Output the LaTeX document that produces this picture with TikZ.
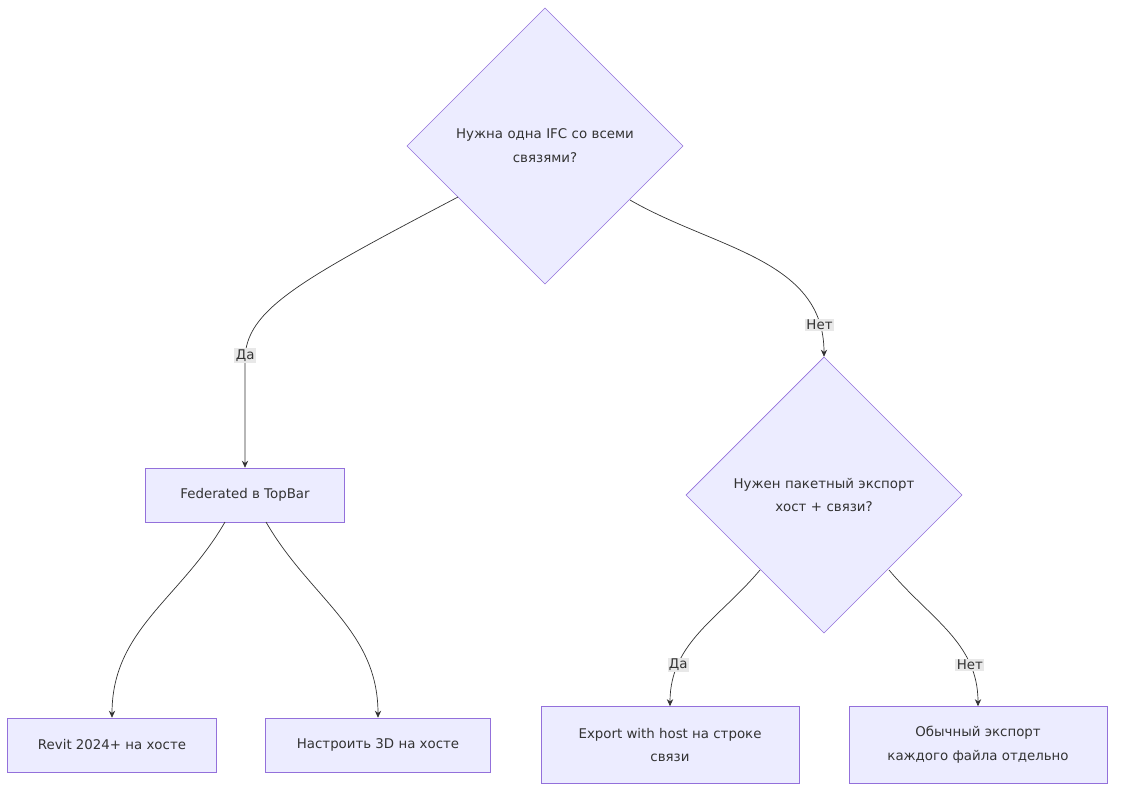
\documentclass[tikz,border=0pt]{standalone}
\usepackage{fontspec}
\setmainfont{DejaVu Sans}
\usetikzlibrary{shapes.geometric,arrows.meta}
\definecolor{mfill}{HTML}{ECECFF}
\definecolor{mline}{HTML}{9370DB}
\definecolor{mtext}{HTML}{333333}
\definecolor{mlab}{HTML}{E8E8E8}
\tikzset{
  box/.style={draw=mline, fill=mfill, text=mtext, font=\fontsize{9.5}{17}\selectfont, align=center, inner sep=0pt},
  choice/.style={box, shape=diamond, minimum width=6.9cm, minimum height=6.9cm, text width=4.8cm},
  arr/.style={draw=mtext, line width=0.5pt, -{Stealth[length=5pt,width=4.5pt]}},
  lbl/.style={fill=mlab, text=mtext, font=\fontsize{9.5}{11}\selectfont, inner sep=1pt}
}
\begin{document}
\begin{tikzpicture}[x=0.025cm, y=-0.025cm]
 \useasboundingbox (0,0) rectangle (1123,798);

 %decisions
 \node[choice] (ifc) at (545,146) {Нужна одна IFC со всеми\\связями?};
 \node[choice] (batch) at (824,495) {Нужен пакетный экспорт\\хост + связи?};

 %boxes
 \node[box, minimum width=4.975cm, minimum height=1.35cm] (fed) at (245,495) {Federated в TopBar};
 \node[box, minimum width=5.225cm, minimum height=1.35cm] (revit) at (112,745) {Revit 2024+ на хосте};
 \node[box, minimum width=5.625cm, minimum height=1.35cm] (host3d) at (378,745) {Настроить 3D на хосте};
 \node[box, minimum width=6.45cm, minimum height=1.925cm] (withhost) at (670,745) {Export with host на строке\\связи};
 \node[box, minimum width=6.45cm, minimum height=1.925cm] (single) at (978,745) {Обычный экспорт\\каждого файла отдельно};

 %edges
 \coordinate (a1) at (458,197);
 \draw[arr] (a1) .. controls (300,280) and (245,310) .. node[lbl, pos=0.97] {Да} (245,360) -- (fed.north);
 \coordinate (a2) at (630,200);
 \draw[arr] (a2) to[out=-30,in=90] node[lbl, pos=0.88] {Нет} (batch.north);
 \coordinate (b1) at (225,522);
 \draw[arr] (b1) to[out=-120,in=90] (revit.north);
 \coordinate (b2) at (266,522);
 \draw[arr] (b2) to[out=-60,in=90] (host3d.north);
 \coordinate (c1) at (760,570);
 \draw[arr] (c1) to[out=-130,in=90] node[lbl, pos=0.75] {Да} (withhost.north);
 \coordinate (c2) at (889,570);
 \draw[arr] (c2) to[out=-50,in=90] node[lbl, pos=0.75] {Нет} (single.north);
\end{tikzpicture}
\end{document}
